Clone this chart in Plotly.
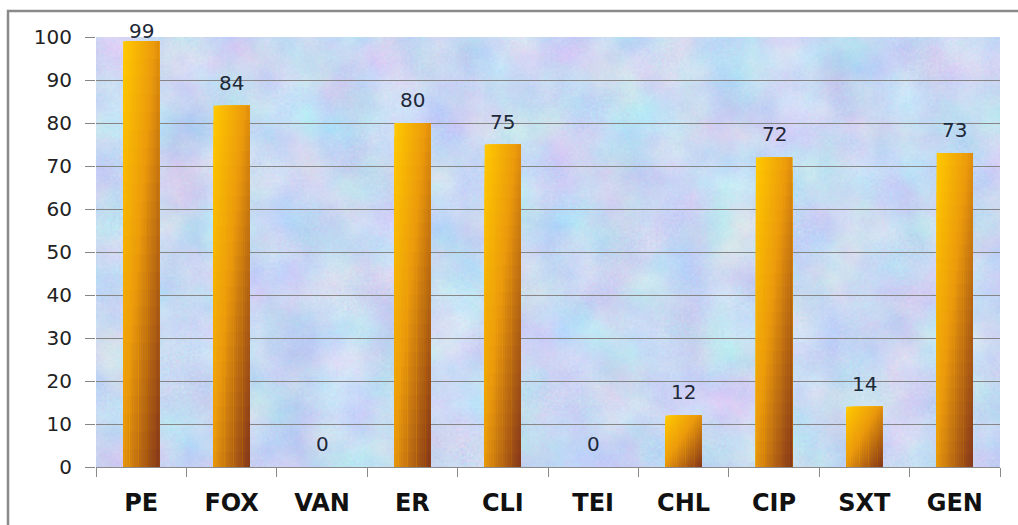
import base64
import plotly.graph_objects as go

categories = ["PE", "FOX", "VAN", "ER", "CLI", "TEI", "CHL", "CIP", "SXT", "GEN"]
values = [99, 84, 0, 80, 75, 0, 12, 72, 14, 73]
y_tick_values = list(range(0, 101, 10))

# ---- styling helpers -------------------------------------------------------
def hex_to_rgb(h):
    h = h.lstrip("#")
    return tuple(int(h[k:k + 2], 16) for k in (0, 2, 4))

RAMP = [(0.0, "#FFC800"), (0.45, "#EB9A0C"), (1.0, "#86381A")]

def ramp(s):
    for (s0, c0), (s1, c1) in zip(RAMP[:-1], RAMP[1:]):
        if s <= s1:
            f = (s - s0) / (s1 - s0)
            a, b = hex_to_rgb(c0), hex_to_rgb(c1)
            return "rgb(%d,%d,%d)" % tuple(round(a[k] + (b[k] - a[k]) * f) for k in range(3))
    return RAMP[-1][1]

BAR_W = 0.4
NC, NR = 16, 24

fig = go.Figure()
# gradient-filled bars: layered bars from the same data
for i in range(NC):
    u = i / (NC - 1)
    left = -BAR_W / 2 + i * BAR_W / NC
    for j in range(NR):
        t = (j + 0.5) / NR
        s = min(1.0, max(0.0, (u + t) / 2))
        fig.add_trace(go.Bar(
            x=categories,
            y=[v * (1 - j / NR) for v in values],
            offset=left,
            width=BAR_W / 2 - left,
            marker=dict(color=ramp(s), line=dict(width=0)),
            hoverinfo="skip",
            showlegend=False,
        ))

annotations = []
for c, v in zip(categories, values):
    annotations.append(dict(
        x=c, y=v, xref="x", yref="y", text=str(v), showarrow=False,
        yanchor="middle", yshift=23 if v < 95 else 10,
        font=dict(family="DejaVu Sans", size=20, color="#1e2838"),
    ))

noise_svg = (
    '<svg xmlns="http://www.w3.org/2000/svg" width="904" height="430" viewBox="0 0 904 430">'
    '<filter id="n" x="0" y="0" width="100%" height="100%" color-interpolation-filters="sRGB">'
    '<feTurbulence type="fractalNoise" baseFrequency="0.018" numOctaves="4" seed="5" result="a"/>'
    '<feTurbulence type="fractalNoise" baseFrequency="0.35" numOctaves="2" seed="11" result="b"/>'
    '<feComposite in="a" in2="b" operator="arithmetic" k1="0" k2="0.8" k3="0.25" k4="0" result="c"/>'
    '<feColorMatrix in="c" type="matrix" values="0.32 0 0 0 0.62  0 0.26 0 0 0.72  0 0 0.1 0 0.9  0 0 0 0 1"/>'
    '</filter>'
    '<rect width="904" height="430" fill="#d0ddf4"/>'
    '<rect width="904" height="430" filter="url(#n)"/>'
    '</svg>'
)
noise_uri = "data:image/svg+xml;base64," + base64.b64encode(noise_svg.encode()).decode()

W, H = 1018, 525
ML, MR, MT, MB = 96, 18, 37, 58
pw, ph = W - ML - MR, H - MT - MB
bx = (8 - ML) / pw
by = (H - MB - 11) / ph

fig.update_layout(
    width=W, height=H,
    margin=dict(l=ML, r=MR, t=MT, b=MB, autoexpand=False),
    paper_bgcolor="white",
    plot_bgcolor="rgba(0,0,0,0)",
    barmode="overlay",
    showlegend=False,
    font=dict(family="DejaVu Sans", color="#222222"),
    images=[dict(source=noise_uri, xref="paper", yref="paper", x=0, y=1,
                 sizex=1, sizey=1, sizing="stretch", xanchor="left",
                 yanchor="top", layer="below")],
    annotations=annotations,
    shapes=[dict(type="path", xref="paper", yref="paper",
                 path=f"M {bx},-0.3 L {bx},{by} L 1.2,{by}",
                 line=dict(color="#8a8a8a", width=2.5))],
)
fig.update_xaxes(
    type="category", categoryorder="array", categoryarray=categories,
    range=[-0.5, len(categories) - 0.5],
    tickson="boundaries", ticks="outside", ticklen=9, tickcolor="#8a8a8a",
    showline=True, linecolor="#8a8a8a", linewidth=1, showgrid=False,
    tickfont=dict(family="DejaVu Sans", size=24, weight="bold", color="#111111"),
    ticklabelstandoff=14,
)
fig.update_yaxes(
    range=[0, 100], tickvals=y_tick_values,
    showgrid=True, gridcolor="#858585", gridwidth=1,
    ticks="outside", ticklen=10, tickcolor="#858585",
    zeroline=False, showline=False,
    tickfont=dict(family="DejaVu Sans", size=20, color="#222222"),
    ticklabelstandoff=9,
)

fig.write_html("out.html")
